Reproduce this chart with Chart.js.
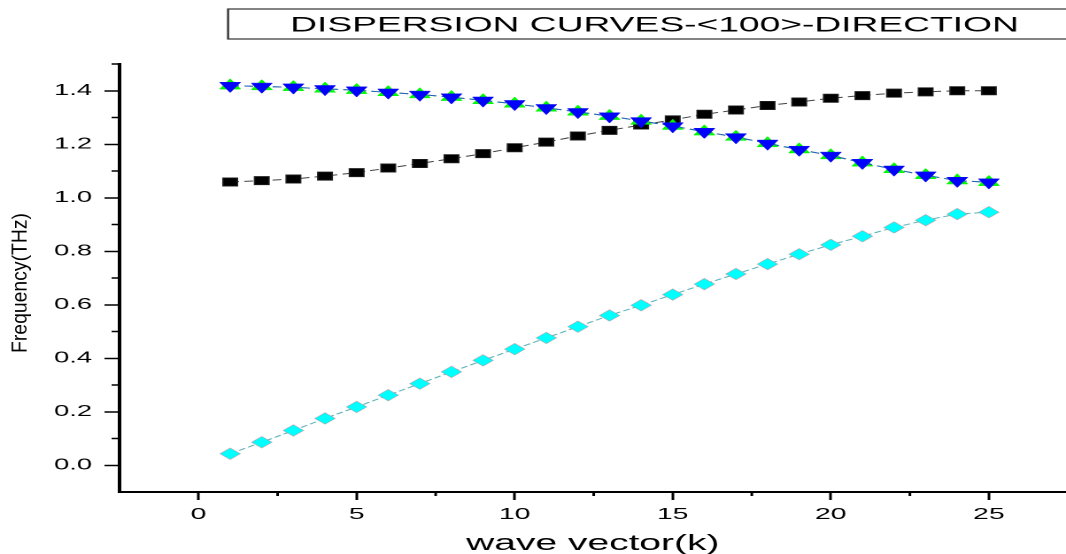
<!DOCTYPE html>
<html>
<head>
<meta charset="utf-8">
<title>Dispersion curves</title>
<script src="https://cdn.jsdelivr.net/npm/chart.js@4.4.1/dist/chart.umd.min.js"></script>
<style>
    html, body { margin: 0; padding: 0; background: #fff; overflow: hidden; }
</style>
</head>
<body>
<canvas id="myChart" width="602" height="554" style="display:block;width:1066px;height:554px"></canvas>
<script>

// wave vector k along <100>
var kValues = [1, 2, 3, 4, 5, 6, 7, 8, 9, 10, 11, 12, 13,
               14, 15, 16, 17, 18, 19, 20, 21, 22, 23, 24, 25];

// black squares
var longBranch = [1.059, 1.064, 1.070, 1.081, 1.094, 1.111, 1.128, 1.146, 1.165,
                  1.187, 1.208, 1.231, 1.252, 1.272, 1.291, 1.312, 1.328, 1.345,
                  1.358, 1.372, 1.382, 1.391, 1.396, 1.400, 1.400];

// green up triangles (sit right under the blue ones)
var transBranch1 = [1.419, 1.416, 1.413, 1.407, 1.402, 1.394, 1.386, 1.376, 1.364,
                    1.351, 1.336, 1.321, 1.305, 1.287, 1.268, 1.247, 1.227, 1.203,
                    1.180, 1.158, 1.131, 1.106, 1.084, 1.064, 1.058];

// blue down triangles
var transBranch2 = [1.419, 1.416, 1.413, 1.407, 1.402, 1.394, 1.386, 1.376, 1.364,
                    1.351, 1.336, 1.321, 1.305, 1.287, 1.268, 1.247, 1.227, 1.203,
                    1.180, 1.158, 1.131, 1.106, 1.084, 1.064, 1.058];

// cyan diamonds
var acousticBranch = [0.043, 0.086, 0.130, 0.175, 0.218, 0.262, 0.305, 0.349, 0.392,
                      0.434, 0.476, 0.518, 0.560, 0.598, 0.638, 0.677, 0.715, 0.752,
                      0.789, 0.824, 0.856, 0.889, 0.916, 0.939, 0.946];

var xTickValues = [0, 5, 10, 15, 20, 25];
var yTickValues = [0, 0.2, 0.4, 0.6, 0.8, 1.0, 1.2, 1.4];
var xMinorTicks = [2.5, 7.5, 12.5, 17.5, 22.5];
var yMinorTicks = [0.1, 0.3, 0.5, 0.7, 0.9, 1.1, 1.3, 1.5];

var chartTitle = 'DISPERSION CURVES-<100>-DIRECTION';
var xTitle = 'wave vector(k)';
var yTitle = 'Frequency(THz)';

// the original picture is stretched sideways, so draw on a narrow
// canvas and let the inline style stretch it to 1066 wide
var STRETCH = 1066 / 602;
var FONT = '"Liberation Sans", Arial, Helvetica, sans-serif';

function toPoints(ys) {
    return kValues.map(function(k, i) { return {x: k, y: ys[i]}; });
}

// boxed title in the top right
var titleBox = {
    id: 'titleBox',
    afterDraw: function(chart) {
        var ctx = chart.ctx;
        ctx.save();
        ctx.strokeStyle = '#333';
        ctx.lineWidth = 1.2;
        ctx.strokeRect(128.8, 9, 500, 30);
        ctx.fillStyle = '#000';
        ctx.font = '21px ' + FONT;
        ctx.textAlign = 'center';
        ctx.textBaseline = 'alphabetic';
        ctx.fillText(chartTitle, 369.6, 31.5);
        ctx.restore();
    }
};

// minor ticks + the rotated y title
var axisExtras = {
    id: 'axisExtras',
    afterDraw: function(chart) {
        var ctx = chart.ctx;
        var xs = chart.scales.x;
        var ys = chart.scales.y;
        var area = chart.chartArea;
        ctx.save();
        ctx.strokeStyle = '#000';
        ctx.lineWidth = 1.5;
        ctx.beginPath();
        xMinorTicks.forEach(function(v) {
            var px = xs.getPixelForValue(v);
            ctx.moveTo(px, area.bottom);
            ctx.lineTo(px, area.bottom + 4);
        });
        yMinorTicks.forEach(function(v) {
            var py = ys.getPixelForValue(v);
            ctx.moveTo(area.left, py);
            ctx.lineTo(area.left - 4.5, py);
        });
        ctx.stroke();

        // y title is not stretched in the original
        ctx.translate(27 / STRETCH, (area.top + area.bottom) / 2 + 5);
        ctx.scale(1 / STRETCH, 1);
        ctx.rotate(-Math.PI / 2);
        ctx.fillStyle = '#000';
        ctx.font = '21px ' + FONT;
        ctx.textAlign = 'center';
        ctx.textBaseline = 'alphabetic';
        ctx.fillText(yTitle, 0, 0, 140);
        ctx.restore();
    }
};

var dataset = [{
    label: 'branch 4',
    data: toPoints(transBranch2),
    showLine: true,
    borderColor: '#2a5fc8',
    borderWidth: 1,
    borderDash: [5, 3],
    pointStyle: 'triangle',
    pointRotation: 180,
    pointRadius: 6.8,
    pointBackgroundColor: '#0000ff',
    pointBorderColor: '#1010f0',
    pointBorderWidth: 0.5
}, {
    label: 'branch 3',
    data: toPoints(transBranch1),
    showLine: true,
    borderColor: '#22bb22',
    borderWidth: 1,
    borderDash: [5, 3],
    pointStyle: 'triangle',
    pointRotation: 0,
    pointRadius: 6.8,
    pointBackgroundColor: '#00ff00',
    pointBorderColor: '#00ee00',
    pointBorderWidth: 0.5
}, {
    label: 'branch 1',
    data: toPoints(longBranch),
    showLine: true,
    borderColor: '#444',
    borderWidth: 1,
    borderDash: [5, 3],
    pointStyle: 'rect',
    pointRadius: 5.8,
    pointBackgroundColor: '#000',
    pointBorderColor: '#222',
    pointBorderWidth: 0.8
}, {
    label: 'branch 2',
    data: toPoints(acousticBranch),
    showLine: true,
    borderColor: '#5fb4b8',
    borderWidth: 1,
    borderDash: [4, 2],
    pointStyle: 'rectRot',
    pointRadius: 5.8,
    pointBackgroundColor: '#00ffff',
    pointBorderColor: 'rgba(220,120,130,0.55)',
    pointBorderWidth: 0.6
}];

var config = {
    type: 'scatter',
    data: {datasets: dataset},
    options: {
        responsive: false,
        animation: false,
        devicePixelRatio: 2,
        // autoPadding would pull the right end of the axis in
        layout: {autoPadding: false, padding: {top: 64, right: 0, bottom: 0, left: 0}},
        elements: {line: {tension: 0}},
        plugins: {
            legend: {display: false},
            tooltip: {enabled: false}
        },
        scales: {
            x: {
                type: 'linear',
                min: -2.5,
                max: 27.44,
                afterBuildTicks: function(scale) {
                    scale.ticks = xTickValues.map(function(v) { return {value: v}; });
                },
                afterFit: function(scale) {
                    scale.height = 62;
                    scale.paddingLeft = 0;
                    scale.paddingRight = 0;
                },
                ticks: {
                    color: '#000',
                    padding: 5,
                    maxRotation: 0,
                    font: {family: FONT, size: 16},
                    callback: function(v) { return String(v); }
                },
                grid: {
                    drawOnChartArea: false,
                    drawTicks: true,
                    tickLength: 8,
                    tickWidth: 1.5,
                    tickColor: '#000'
                },
                border: {display: true, color: '#000', width: 2},
                title: {
                    display: true,
                    text: xTitle,
                    color: '#000',
                    padding: 0,
                    font: {family: FONT, size: 22, lineHeight: 0.9}
                }
            },
            y: {
                type: 'linear',
                min: -0.1,
                max: 1.5,
                afterBuildTicks: function(scale) {
                    scale.ticks = yTickValues.map(function(v) { return {value: v}; });
                },
                afterFit: function(scale) { scale.width = 67.5; },
                ticks: {
                    color: '#000',
                    padding: 7,
                    font: {family: FONT, size: 15.5},
                    callback: function(v) { return v.toFixed(1); }
                },
                grid: {
                    drawOnChartArea: false,
                    drawTicks: true,
                    tickLength: 8.5,
                    tickWidth: 1.5,
                    tickColor: '#000'
                },
                border: {display: true, color: '#000', width: 2}
            }
        }
    },
    plugins: [titleBox, axisExtras]
};

var myChart = new Chart(document.getElementById('myChart'), config);

</script>
</body>
</html>
